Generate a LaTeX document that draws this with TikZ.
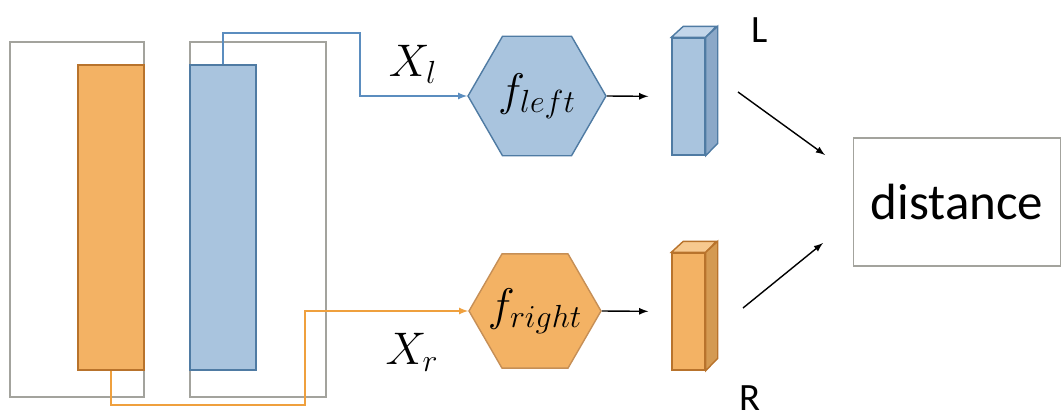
\RequirePackage{fix-cm}
\documentclass[tikz,border=0pt]{standalone}
\usepackage{fontspec}
\setsansfont{Carlito}
\usetikzlibrary{calc,positioning,shapes.geometric}

\definecolor{orfill}{HTML}{F3B264}
\definecolor{ortop}{HTML}{F7C98F}
\definecolor{orside}{HTML}{D49A52}
\definecolor{ordraw}{HTML}{B8732C}
\definecolor{orline}{HTML}{EFA03E}
\definecolor{blfill}{HTML}{A9C4DE}
\definecolor{bltop}{HTML}{C3D6EA}
\definecolor{blside}{HTML}{8BA8C8}
\definecolor{bldraw}{HTML}{4F7BA3}
\definecolor{blline}{HTML}{5B8DBF}
\definecolor{frame}{HTML}{A3A39D}

\begin{document}
\begin{tikzpicture}[x=0.02cm, y=-0.02cm, >=latex, line width=0.8pt]
        \tikzset{
          win/.style ={draw=frame, line width=1.1pt, rectangle, inner sep=0pt},
          hexa/.style={regular polygon, regular polygon sides=6, inner sep=-12pt, font=\fontsize{26}{30}\selectfont},
          vec/.style ={rectangle, inner sep=0pt, minimum width=0.66cm, minimum height=2.34cm},
          lab/.style ={font=\sffamily\fontsize{22}{26}\selectfont}
        }
        \useasboundingbox (0,0) rectangle (1062,419);
        %% --- input windows ---
        \node[win, minimum width=2.68cm, minimum height=7.1cm] (w1) at (77,219.5) {};
        \node[win, minimum width=2.72cm, minimum height=7.1cm] (w2) at (258,219.5) {};
        \node[draw=ordraw, fill=orfill, minimum width=1.32cm, minimum height=6.1cm, inner sep=0pt] (or) at (111,217.5) {};
        \node[draw=bldraw, fill=blfill, minimum width=1.32cm, minimum height=6.1cm, inner sep=0pt] (bl) at (223,217.5) {};
        %% --- networks ---
        \node[hexa, draw=bldraw, fill=blfill, minimum size=2.76cm] (hl) at (537,96) {$f_{left}$};
        \node[hexa, draw=ordraw!80, fill=orfill, minimum size=2.64cm] (hr) at (535,311) {$f_{right}$};
        \coordinate (bturn) at (360,33);
        \coordinate (oturn) at (305,405);
        \draw[->, blline] (bl.north) |- (bturn) |- (hl.west);
        \draw[->, orline] (or.south) |- (oturn) |- (hr.west);
        \node[font=\fontsize{26}{30}\selectfont] (xl) at (413,64) {$X_l$};
        \node[font=\fontsize{26}{30}\selectfont] (xr) at (412,352) {$X_r$};
        %% --- embeddings ---
        \node[vec, draw=bldraw, fill=blfill] (el) at (688.5,96.5) {};
        \node[vec, draw=ordraw, fill=orfill] (er) at (688.5,311.5) {};
        \draw[bldraw, fill=bltop] (el.north west) -- ++(12,-11) -- ++(33,0) -- (el.north east) -- cycle;
        \draw[bldraw, fill=blside] (el.north east) -- ++(12,-11) -- ++(0,117) -- (el.south east) -- cycle;
        \draw[ordraw, fill=ortop] (er.north west) -- ++(12,-11) -- ++(33,0) -- (er.north east) -- cycle;
        \draw[ordraw, fill=orside] (er.north east) -- ++(12,-11) -- ++(0,117) -- (er.south east) -- cycle;
        \draw[->, shorten >=0.46cm] (hl.east) -- (el.west);
        \draw[->, shorten >=0.46cm] (hr.east) -- (er.west);
        \node[lab] (ll) at (760,30) {L};
        \node[lab] (rl) at (750,398) {R};
        %% --- distance ---
        \node[draw=frame, line width=0.9pt, minimum width=4.14cm, minimum height=2.56cm, inner sep=0pt,
              font=\sffamily\fontsize{29}{34}\selectfont] (dist) at (957,202) {distance};
        \coordinate (lout) at (738,92);
        \coordinate (rout) at (743,308);
        \coordinate (din1) at (825,155);
        \coordinate (din2) at (823,243);
        \draw[->] (lout) -- (din1);
        \draw[->] (rout) -- (din2);
\end{tikzpicture}
\end{document}
